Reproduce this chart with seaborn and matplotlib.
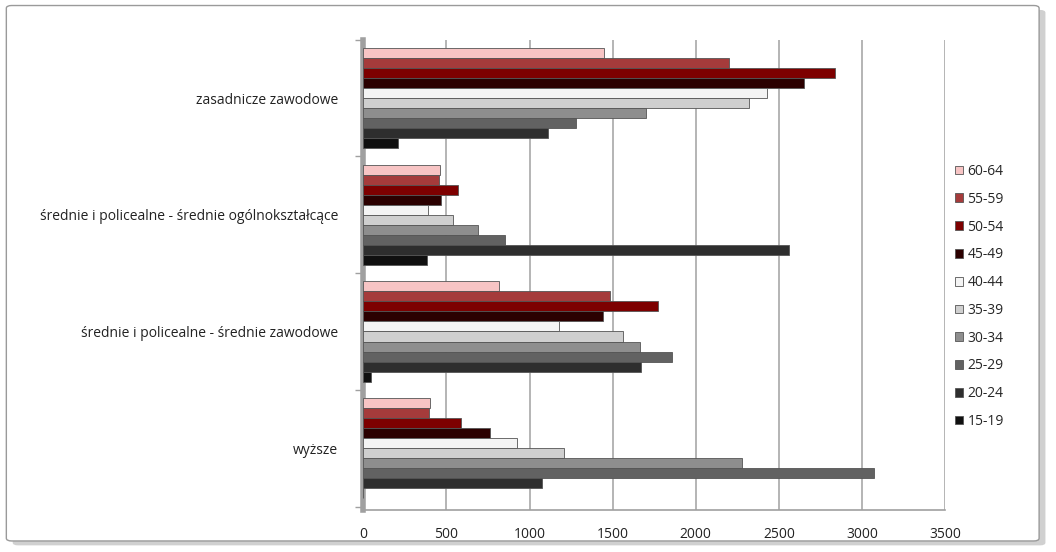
import matplotlib
matplotlib.use("Agg")
import matplotlib.pyplot as plt
import seaborn as sns
import pandas as pd
from matplotlib.patches import FancyBboxPatch

categories = ["zasadnicze zawodowe",
              "średnie i policealne - średnie ogólnokształcące",
              "średnie i policealne - średnie zawodowe",
              "wyższe"]
age_groups = ["60-64", "55-59", "50-54", "45-49", "40-44",
              "35-39", "30-34", "25-29", "20-24", "15-19"]

zasadnicze = [1450, 2200, 2840, 2650, 2430, 2320, 1700, 1280, 1110, 210]
ogolnoksztalcace = [460, 455, 570, 465, 390, 540, 690, 850, 2560, 385]
srednie_zawodowe = [815, 1485, 1775, 1440, 1180, 1560, 1665, 1860, 1670, 45]
wyzsze = [400, 395, 590, 760, 925, 1210, 2280, 3075, 1075, 0]

colors = ["#f7c4c4", "#a53b3b", "#7d0000", "#2b0000", "#f4f4f4",
          "#cfcfcf", "#8e8e8e", "#626262", "#2e2e2e", "#101010"]

rows = []
for cat, vals in zip(categories, [zasadnicze, ogolnoksztalcace, srednie_zawodowe, wyzsze]):
    for ag, v in zip(age_groups, vals):
        rows.append({"kat": cat, "wiek": ag, "val": v})
df = pd.DataFrame(rows)

sns.set_theme(style="white")
plt.rcParams["font.family"] = ["Open Sans", "DejaVu Sans"]

fig = plt.figure(figsize=(10.56, 5.52), dpi=100)
# figure frame with soft shadow
fig.patches.append(FancyBboxPatch((0.012, 0.012), 0.978, 0.97, boxstyle="round,pad=0,rounding_size=0.005",
                                  transform=fig.transFigure, facecolor="#d0d0d0", edgecolor="none", zorder=-3))
fig.patches.append(FancyBboxPatch((0.006, 0.02), 0.978, 0.97, boxstyle="round,pad=0,rounding_size=0.005",
                                  transform=fig.transFigure, facecolor="white", edgecolor="#9a9a9a",
                                  linewidth=1.0, zorder=-2))

ax = fig.add_axes([0.344, 0.076, 0.551, 0.852])
ax.set_facecolor("none")
sns.barplot(data=df, y="kat", x="val", hue="wiek", order=categories, hue_order=age_groups,
            palette=colors, orient="h", width=0.86, edgecolor="#555555", linewidth=0.6,
            saturation=1, ax=ax, zorder=3)

ax.set_xlim(0, 3500)
ax.set_xticks(range(0, 3501, 500))
ax.set_ylim(3.53, -0.47)
ax.set_yticks([-0.5, 0.5, 1.5, 2.5, 3.5], minor=True)
ax.xaxis.grid(True, color="#a8a8a8", linewidth=1.2, zorder=0)
ax.set_axisbelow(True)
for s in ["top", "right"]:
    ax.spines[s].set_visible(False)
ax.spines["left"].set_color("#a0a0a0")
ax.spines["left"].set_linewidth(4)
ax.spines["bottom"].set_color("#a0a0a0")
ax.spines["bottom"].set_linewidth(1.2)
ax.set_xlabel("")
ax.set_ylabel("")
ax.tick_params(axis="both", which="major", labelsize=10, colors="#222222", length=0)
ax.tick_params(axis="x", pad=12)
ax.tick_params(axis="y", pad=18)
ax.tick_params(axis="y", which="minor", length=6, width=1, color="#a0a0a0", direction="out", left=True)

handles, labels = ax.get_legend_handles_labels()
ax.legend_.remove()
fig.legend(handles, labels, loc="upper left", bbox_to_anchor=(0.899, 0.713), frameon=False,
           fontsize=10, handlelength=0.6, handleheight=0.6, handletextpad=0.3,
           labelspacing=0.92, borderaxespad=0)

fig.savefig("out.png", dpi=100)
